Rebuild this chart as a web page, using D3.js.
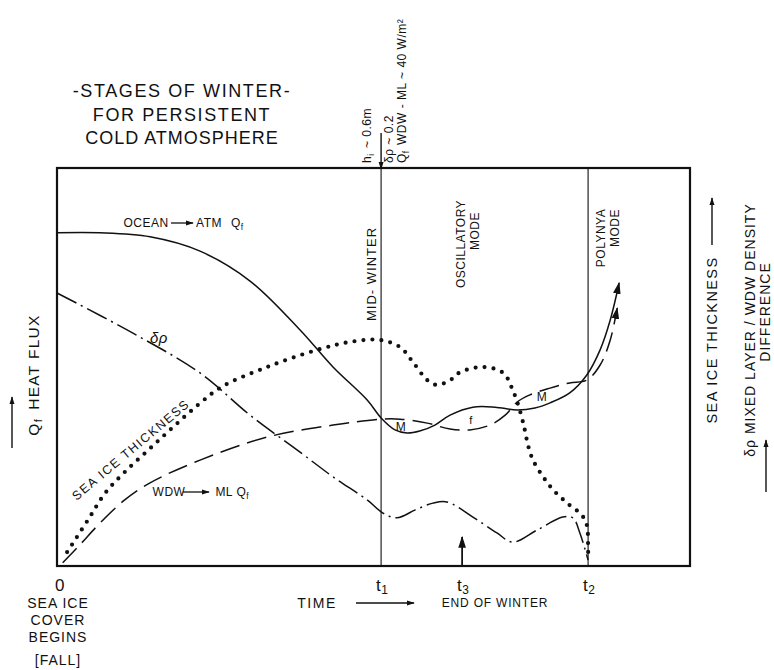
<!DOCTYPE html>
<html>
<head>
<meta charset="utf-8">
<title>Stages of winter</title>
<script src="https://d3js.org/d3.v7.min.js"></script>
<style>
body { margin: 0; background: #fff; }
svg text { font-family: "Liberation Sans", Arial, sans-serif; fill: #111; }
</style>
</head>
<body>
<script>
// time runs 0..100 across the frame, every curve is in relative units 0..100
var stageTimes = [51.2, 83.9];            // t1 (mid-winter), t2 (polynya)
var tickTimes  = [0, 51.2, 64.0, 83.9];
var tickNames  = ["0", "t", "t", "t"];
var tickSubs   = ["", "1", "3", "2"];

// ocean -> atmosphere heat flux (solid)
var oceanAtm = [[0,83.7],[6.8,83.7],[14.7,82.7],[22.6,79.1],[30.5,71.6],[38.4,59.3],[43.6,50.0],
  [49.0,41.7],[51.2,37.2],[53.4,34.2],[55.3,33.4],[57.3,33.9],[59.7,35.4],[62.1,37.9],[65.7,39.9],
  [69.2,39.9],[72.7,39.2],[75.5,39.7],[77.9,41.0],[81.0,43.5],[83.7,48.0],[85.8,54.3],[87.4,61.8],[88.8,71.1]];

// WDW -> mixed layer heat flux (long dash)
var wdwMl = [[0.9,0.8],[3.6,5.3],[6.8,10.8],[10.7,16.6],[14.7,20.9],[22.6,26.6],[33.2,32.4],[43.6,35.4],
  [51.3,36.9],[54.2,36.9],[58.5,35.9],[62.1,34.4],[65.2,34.2],[68.4,35.4],[70.8,37.9],[72.7,41.2],
  [74.7,43.0],[77.9,44.7],[81.0,46.0],[83.7,46.7],[85.8,50.5],[87.4,56.8],[88.5,64.8]];

// sea ice thickness (dotted)
var iceThick = [[1.6,3.5],[4.9,11.6],[7.6,18.3],[10.7,23.6],[14.4,29.1],[18.2,34.7],[22.3,40.5],[26.0,45.0],
  [33.2,50.0],[41.1,54.3],[46.3,56.3],[51.0,56.8],[54.2,55.0],[56.2,51.3],[58.5,46.7],[60.0,45.5],[62.1,46.7],
  [63.7,48.7],[67.3,50.0],[70.5,48.5],[72.0,44.2],[73.1,39.2],[73.9,34.2],[74.4,30.4],[75.2,26.6],
  [76.8,22.4],[78.4,19.1],[80.6,15.8],[82.9,12.8],[83.7,10.3],[83.9,5.3],[83.9,1.5]];

// mixed layer / WDW density difference (dash-dot)
var densDiff = [[0,68.6],[12.0,58.5],[22.6,48.5],[30.5,37.9],[38.4,28.6],[43.6,22.4],[49.0,16.6],
  [51.5,13.3],[53.7,12.1],[56.6,14.1],[59.4,15.8],[61.6,16.1],[65.7,12.3],[69.5,8.3],[72.0,6.0],
  [75.8,9.0],[79.9,12.3],[81.5,12.1],[82.6,8.3],[83.9,1.5]];

var width = 774, height = 670;
var ink = "#111";
var svg = d3.select("body").append("svg")
  .attr("width", width).attr("height", height);

var x = d3.scaleLinear().domain([0, 100]).range([57, 690]);
var y = d3.scaleLinear().domain([0, 100]).range([566, 168]);

var defs = svg.append("defs");
function marker(id, size) {
  defs.append("marker").attr("id", id)
    .attr("viewBox", "0 0 10 10").attr("refX", 9).attr("refY", 5)
    .attr("markerWidth", size).attr("markerHeight", size)
    .attr("markerUnits", "userSpaceOnUse").attr("orient", "auto")
    .append("path").attr("d", "M0,1.8 L10,5 L0,8.2 Z").attr("fill", ink);
}
marker("arr", 12);
marker("arrS", 8);

function arrow(x1, y1, x2, y2, m, w) {
  svg.append("line").attr("x1", x1).attr("y1", y1).attr("x2", x2).attr("y2", y2)
    .attr("stroke", ink).attr("stroke-width", w || 1.6)
    .attr("marker-end", "url(#" + m + ")");
}

// frame
svg.append("rect")
  .attr("x", x(0)).attr("y", y(100))
  .attr("width", x(100) - x(0)).attr("height", y(0) - y(100))
  .attr("fill", "none").attr("stroke", ink).attr("stroke-width", 2.2);

// stage lines t1, t2
svg.selectAll(".stage").data(stageTimes).enter().append("line")
  .attr("x1", d => x(d)).attr("x2", d => x(d))
  .attr("y1", y(100)).attr("y2", y(0))
  .attr("stroke", ink).attr("stroke-width", 1.1);

var line = d3.line().x(d => x(d[0])).y(d => y(d[1])).curve(d3.curveCatmullRom.alpha(0.5));

svg.append("path").datum(densDiff).attr("d", line)
  .attr("fill", "none").attr("stroke", ink).attr("stroke-width", 1.5)
  .attr("stroke-dasharray", "22 5 2 5");
svg.append("path").datum(wdwMl).attr("d", line)
  .attr("fill", "none").attr("stroke", ink).attr("stroke-width", 1.5)
  .attr("stroke-dasharray", "20 8").attr("marker-end", "url(#arr)");
svg.append("path").datum(oceanAtm).attr("d", line)
  .attr("fill", "none").attr("stroke", ink).attr("stroke-width", 1.5)
  .attr("marker-end", "url(#arr)");
svg.append("path").datum(iceThick).attr("d", line)
  .attr("fill", "none").attr("stroke", ink).attr("stroke-width", 4.2)
  .attr("stroke-linecap", "round").attr("stroke-dasharray", "0 9");

// plain text helper, optional subscript part
function label(px, py, str, size, opts) {
  opts = opts || {};
  var t = svg.append("text")
    .attr("transform", "translate(" + px + "," + py + ")" + (opts.rot ? " rotate(" + opts.rot + ")" : ""))
    .attr("text-anchor", opts.anchor || "middle")
    .attr("dominant-baseline", "central")
    .style("font-size", size + "px")
    .style("letter-spacing", (opts.ls || 0.5) + "px");
  if (opts.italic) t.style("font-style", "italic");
  var parts = Array.isArray(str) ? str : [str];
  parts.forEach(function(p) {
    if (p.charAt(0) === "_") {
      t.append("tspan").attr("dy", size * 0.3).style("font-size", (size * 0.7) + "px").text(p.slice(1));
      t.append("tspan").attr("dy", -size * 0.3).text("\u200a");
    } else {
      t.append("tspan").text(p);
    }
  });
  return t;
}

// title
label(182, 91, "-STAGES OF WINTER-", 18, {ls: 1.6});
label(182, 115, "FOR PERSISTENT", 18, {ls: 1.6});
label(182, 138, "COLD ATMOSPHERE", 18, {ls: 1});

// top annotation at t1
arrow(x(stageTimes[0]), 133, x(stageTimes[0]), 169, "arrS", 1.4);
label(367, 163, ["h", "_i", " ~ 0.6m"], 12, {rot: -90, anchor: "start"});
label(389, 163, "\u03b4\u03c1 ~ 0.2", 12, {rot: -90, anchor: "start"});
label(402, 163, ["Q", "_f", " WDW - ML ~ 40 W/m\u00b2"], 12, {rot: -90, anchor: "start"});

// curve labels
label(146, 223, "OCEAN", 12, {});
arrow(171, 223, 193, 223, "arrS", 1.3);
label(209, 223, "ATM", 12, {});
label(238, 223, ["Q", "_f"], 12, {});
label(159, 337, "\u03b4\u03c1", 15, {italic: true});
label(131, 450, "SEA ICE THICKNESS", 12.5, {rot: -40, ls: 1.5});
label(169, 492, "WDW", 12, {ls: 0});
arrow(183, 492, 209, 492, "arrS", 1.3);
label(233, 492, ["ML Q", "_f"], 12, {ls: 0});
label(401, 427, "M", 12, {});
label(542, 397, "M", 12, {});
label(471, 420, "f", 11, {});

// stage labels
label(371, 274, "MID- WINTER", 13, {rot: -90, ls: 1});
label(461, 244, "OSCILLATORY", 12, {rot: -90});
label(475, 231, "MODE", 12, {rot: -90});
label(601, 238, "POLYNYA", 12, {rot: -90});
label(615, 228, "MODE", 12, {rot: -90});

// time ticks
tickTimes.forEach(function(t, i) {
  var lx = x(t) + (i === 0 ? 3 : 2);
  label(lx, 585, tickSubs[i] ? [tickNames[i], "_" + tickSubs[i]] : tickNames[i], 17, {ls: 0});
});
arrow(x(tickTimes[2]), y(0), x(tickTimes[2]), 537, "arr", 1.8);

// bottom labels
label(58, 603, "SEA ICE", 14, {ls: 1});
label(58, 620, "COVER", 14, {ls: 1});
label(58, 637, "BEGINS", 14, {ls: 1});
label(58, 660, "[FALL]", 14, {ls: 1});
label(317, 603, "TIME", 14, {ls: 1.5});
arrow(356, 603, 414, 603, "arrS", 1.4);
label(495, 603, "END OF WINTER", 12, {ls: 0.8});

// side labels
arrow(12, 448, 12, 397, "arrS", 1.4);
label(33, 375, ["Q", "_f", " HEAT FLUX"], 15.5, {rot: -90, ls: 1.3});
label(712, 340, "SEA ICE THICKNESS", 14.5, {rot: -90, ls: 1.4});
arrow(712, 245, 712, 198, "arrS", 1.4);
label(750, 330, "\u03b4\u03c1  MIXED LAYER / WDW DENSITY", 14, {rot: -90, ls: 1});
label(765, 312, "DIFFERENCE", 14, {rot: -90, ls: 1});
arrow(766, 492, 766, 440, "arrS", 1.4);
</script>
</body>
</html>
